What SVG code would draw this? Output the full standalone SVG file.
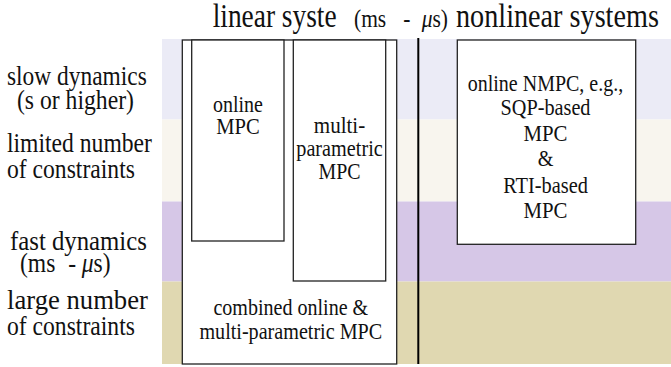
<svg xmlns="http://www.w3.org/2000/svg" width="671" height="367" viewBox="0 0 671 367">
<rect width="671" height="367" fill="#fff"/>
<g id="bands">
<rect x="162" y="39" width="509" height="80.5" fill="#ebebf6"/>
<rect x="162" y="119.5" width="509" height="82" fill="#f8f5ee"/>
<rect x="162" y="201.5" width="509" height="80" fill="#d6c7e7"/>
<rect x="162" y="281.5" width="509" height="82.5" fill="#e0d8b1"/>
</g>
<g id="title" fill="#111">
<text font-family="Liberation Serif" font-size="33" transform="translate(212.7,27) scale(0.83,1)">linear syste</text>
<text font-family="Liberation Serif" font-size="25.5" transform="translate(354,27) scale(0.843,1)">(ms</text>
<text font-family="Liberation Serif" font-size="25.5" transform="translate(403.3,27) scale(0.843,1)">-</text>
<text font-family="Liberation Serif" font-size="25.5" transform="translate(421.7,27) scale(0.843,1)"><tspan font-style="italic">μ</tspan>s)</text>
<text font-family="Liberation Serif" font-size="33" transform="translate(456,27) scale(0.855,1)">nonlinear systems</text>
</g>
<g id="row-labels" fill="#111">
<text font-family="Liberation Serif" font-size="28" transform="translate(7,85) scale(0.837,1)">slow dynamics</text>
<text font-family="Liberation Serif" font-size="28" transform="translate(17,108.5) scale(0.845,1)">(s or higher)</text>
<text font-family="Liberation Serif" font-size="28" transform="translate(7,152) scale(0.844,1)">limited number</text>
<text font-family="Liberation Serif" font-size="28" transform="translate(7,178) scale(0.844,1)">of constraints</text>
<text font-family="Liberation Serif" font-size="28" transform="translate(10,250) scale(0.885,1)">fast dynamics</text>
<text font-family="Liberation Serif" font-size="28" transform="translate(20,272) scale(0.843,1)">(ms</text>
<text font-family="Liberation Serif" font-size="28" transform="translate(68.3,272) scale(0.843,1)">-</text>
<text font-family="Liberation Serif" font-size="28" transform="translate(81.7,272) scale(0.843,1)"><tspan font-style="italic">μ</tspan>s)</text>
<text font-family="Liberation Serif" font-size="28" transform="translate(7,309) scale(0.953,1)">large number</text>
<text font-family="Liberation Serif" font-size="28" transform="translate(7,335) scale(0.844,1)">of constraints</text>
</g>
<g id="combined-mpc" fill="#111" text-anchor="middle">
<rect x="182.3" y="40" width="214.4" height="324" fill="#fff" stroke="#222" stroke-width="1.3"/>
<text font-family="Liberation Serif" font-size="24" transform="translate(290.8,314.5) scale(0.836,1)">combined online &amp;</text>
<text font-family="Liberation Serif" font-size="24" transform="translate(290.8,338.5) scale(0.839,1)">multi-parametric MPC</text>
</g>
<g id="online-mpc" fill="#111" text-anchor="middle">
<rect x="191.7" y="40" width="92.3" height="201" fill="#fff" stroke="#222" stroke-width="1.3"/>
<text font-family="Liberation Serif" font-size="24" transform="translate(238,112) scale(0.833,1)">online</text>
<text font-family="Liberation Serif" font-size="24" transform="translate(238,134) scale(0.858,1)">MPC</text>
</g>
<g id="multiparametric-mpc" fill="#111" text-anchor="middle">
<rect x="293.3" y="40" width="92.4" height="241" fill="#fff" stroke="#222" stroke-width="1.3"/>
<text font-family="Liberation Serif" font-size="24" transform="translate(339.5,133) scale(0.877,1)">multi-</text>
<text font-family="Liberation Serif" font-size="24" transform="translate(339.5,155.5) scale(0.843,1)">parametric</text>
<text font-family="Liberation Serif" font-size="24" transform="translate(339.5,178.5) scale(0.828,1)">MPC</text>
</g>
<g id="online-nmpc" fill="#111" text-anchor="middle">
<rect x="457.3" y="40" width="178.4" height="204.3" fill="#fff" stroke="#222" stroke-width="1.3"/>
<text font-family="Liberation Serif" font-size="24" transform="translate(545.5,91) scale(0.833,1)">online NMPC, e.g.,</text>
<text font-family="Liberation Serif" font-size="24" transform="translate(545.5,115) scale(0.844,1)">SQP-based</text>
<text font-family="Liberation Serif" font-size="24" transform="translate(545.5,140.5) scale(0.868,1)">MPC</text>
<text font-family="Liberation Serif" font-size="24" transform="translate(545.5,165.5) scale(0.843,1)">&amp;</text>
<text font-family="Liberation Serif" font-size="24" transform="translate(545.5,193) scale(0.849,1)">RTI-based</text>
<text font-family="Liberation Serif" font-size="24" transform="translate(545.5,217.5) scale(0.868,1)">MPC</text>
</g>
<g id="connectors">
<line x1="418.3" y1="38" x2="418.3" y2="364" stroke="#000" stroke-width="2"/>
</g>
</svg>
